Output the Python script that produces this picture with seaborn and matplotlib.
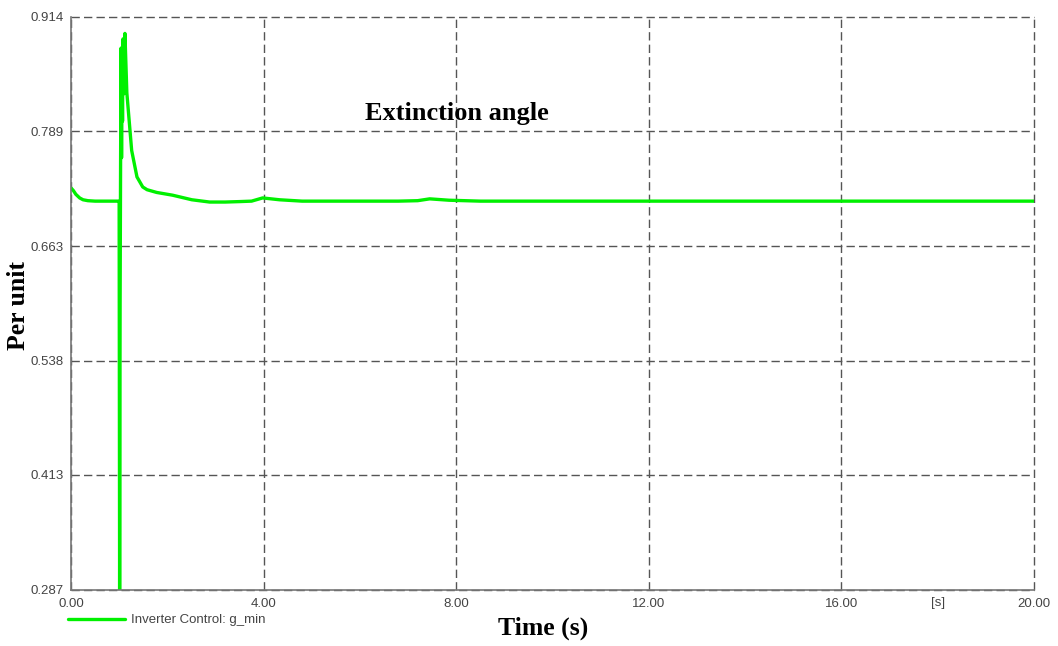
import numpy as np
import pandas as pd
import matplotlib
matplotlib.use("Agg")
import matplotlib.pyplot as plt
import seaborn as sns
from matplotlib.ticker import FixedLocator, FormatStrFormatter
from matplotlib.lines import Line2D

# Data
time_s = [0.00, 0.05, 0.10, 0.18, 0.25, 0.35, 0.50, 0.70, 0.99,
          1.00, 1.01, 1.02, 1.03, 1.04, 1.05, 1.06, 1.07, 1.08, 1.10, 1.12,
          1.16, 1.26, 1.37, 1.49, 1.58, 1.78, 2.11, 2.51, 2.88, 3.20, 3.50,
          3.75, 3.98, 4.33, 4.80, 5.50, 6.20, 6.80, 7.20, 7.45, 7.85, 8.50,
          10.0, 12.0, 14.0, 16.0, 18.0, 20.0]
g_min = [0.727, 0.724, 0.720, 0.716, 0.714, 0.713, 0.7125, 0.7125, 0.7125,
         0.712, 0.287, 0.600, 0.754, 0.880, 0.760, 0.860, 0.800, 0.890, 0.830, 0.896,
         0.831, 0.768, 0.739, 0.728, 0.725, 0.722, 0.719, 0.714, 0.7115, 0.7115, 0.712,
         0.7125, 0.716, 0.714, 0.7125, 0.7125, 0.7125, 0.7125, 0.713, 0.715, 0.7135, 0.7125,
         0.7125, 0.7125, 0.7125, 0.7125, 0.7125, 0.7125]

y_ticks = [0.287, 0.413, 0.538, 0.663, 0.789, 0.914]
x_ticks = [0.0, 4.0, 8.0, 12.0, 16.0, 20.0]
x_minor = [2.0, 6.0, 10.0, 14.0, 18.0]
series_name = "Inverter Control: g_min"

df = pd.DataFrame({"t": time_s, "v": g_min})

sns.set_style("white")
fig = plt.figure(figsize=(10.58, 6.46), dpi=100)
ax = fig.add_axes([0.0671, 0.0867, 0.9773 - 0.0671, 0.9737 - 0.0867])

green = "#00F000"
sns.lineplot(data=df, x="t", y="v", ax=ax, color=green, linewidth=2.4,
             estimator=None, sort=False, legend=False)

ax.set_xlim(0, 20)
ax.set_ylim(0.287, 0.914)

grey = "#555555"
lab_col = "#444444"
ax.xaxis.set_major_locator(FixedLocator(x_ticks))
ax.xaxis.set_minor_locator(FixedLocator(x_minor))
ax.yaxis.set_major_locator(FixedLocator(y_ticks))
ymin_ticks = [(a + b) / 2 for a, b in zip(y_ticks[:-1], y_ticks[1:])]
ax.yaxis.set_minor_locator(FixedLocator(ymin_ticks))
ax.xaxis.set_major_formatter(FormatStrFormatter("%.2f"))
ax.yaxis.set_major_formatter(FormatStrFormatter("%.3f"))

ax.tick_params(axis="both", which="major", direction="in", length=4, width=1,
               color=grey, labelsize=9.5, labelcolor=lab_col)
ax.tick_params(axis="x", which="major", pad=6)
ax.tick_params(axis="y", which="major", pad=5)
ax.tick_params(axis="both", which="minor", direction="in", length=3, width=1, color=grey)
for lab in ax.get_xticklabels() + ax.get_yticklabels():
    lab.set_fontfamily("Liberation Sans")

ax.grid(True, which="major", color=grey, linestyle=(0, (6, 3)), linewidth=1.0)
for gl in ax.get_xgridlines() + ax.get_ygridlines():
    gl.set_clip_on(False)
for s in ["top", "right"]:
    ax.spines[s].set_visible(False)
for s in ["left", "bottom"]:
    ax.spines[s].set_color("#777777")
    ax.spines[s].set_linewidth(1.2)

ax.set_xlabel("")
ax.set_ylabel("")

# unit label at minor tick 18
ax.text(18.0, -0.012, "[s]", transform=ax.get_xaxis_transform(), ha="center", va="top",
        fontsize=9.5, color=lab_col, fontfamily="Liberation Sans")

ax.text(0.305, 0.832, "Extinction angle", transform=ax.transAxes, ha="left", va="center",
        fontsize=19, fontweight="bold", fontfamily="Liberation Serif", color="black")

fig.text(543 / 1058, 1 - 628 / 646, "Time (s)", ha="center", va="center",
         fontsize=18.5, fontweight="bold", fontfamily="Liberation Serif", color="black")
fig.text(19 / 1058, 1 - 305 / 646, "Per unit", ha="center", va="center", rotation=90,
         fontsize=18.5, fontweight="bold", fontfamily="Liberation Serif", color="black")

# legend below axes
h = [Line2D([0], [0], color=green, linewidth=2.4)]
fig.legend(h, [series_name], loc="center left", bbox_to_anchor=(56 / 1058, 1 - 620 / 646),
           frameon=False, prop={"family": "Liberation Sans", "size": 9.5},
           labelcolor=lab_col, handlelength=4.3, handletextpad=0.5)

fig.savefig("out.png", dpi=100)
